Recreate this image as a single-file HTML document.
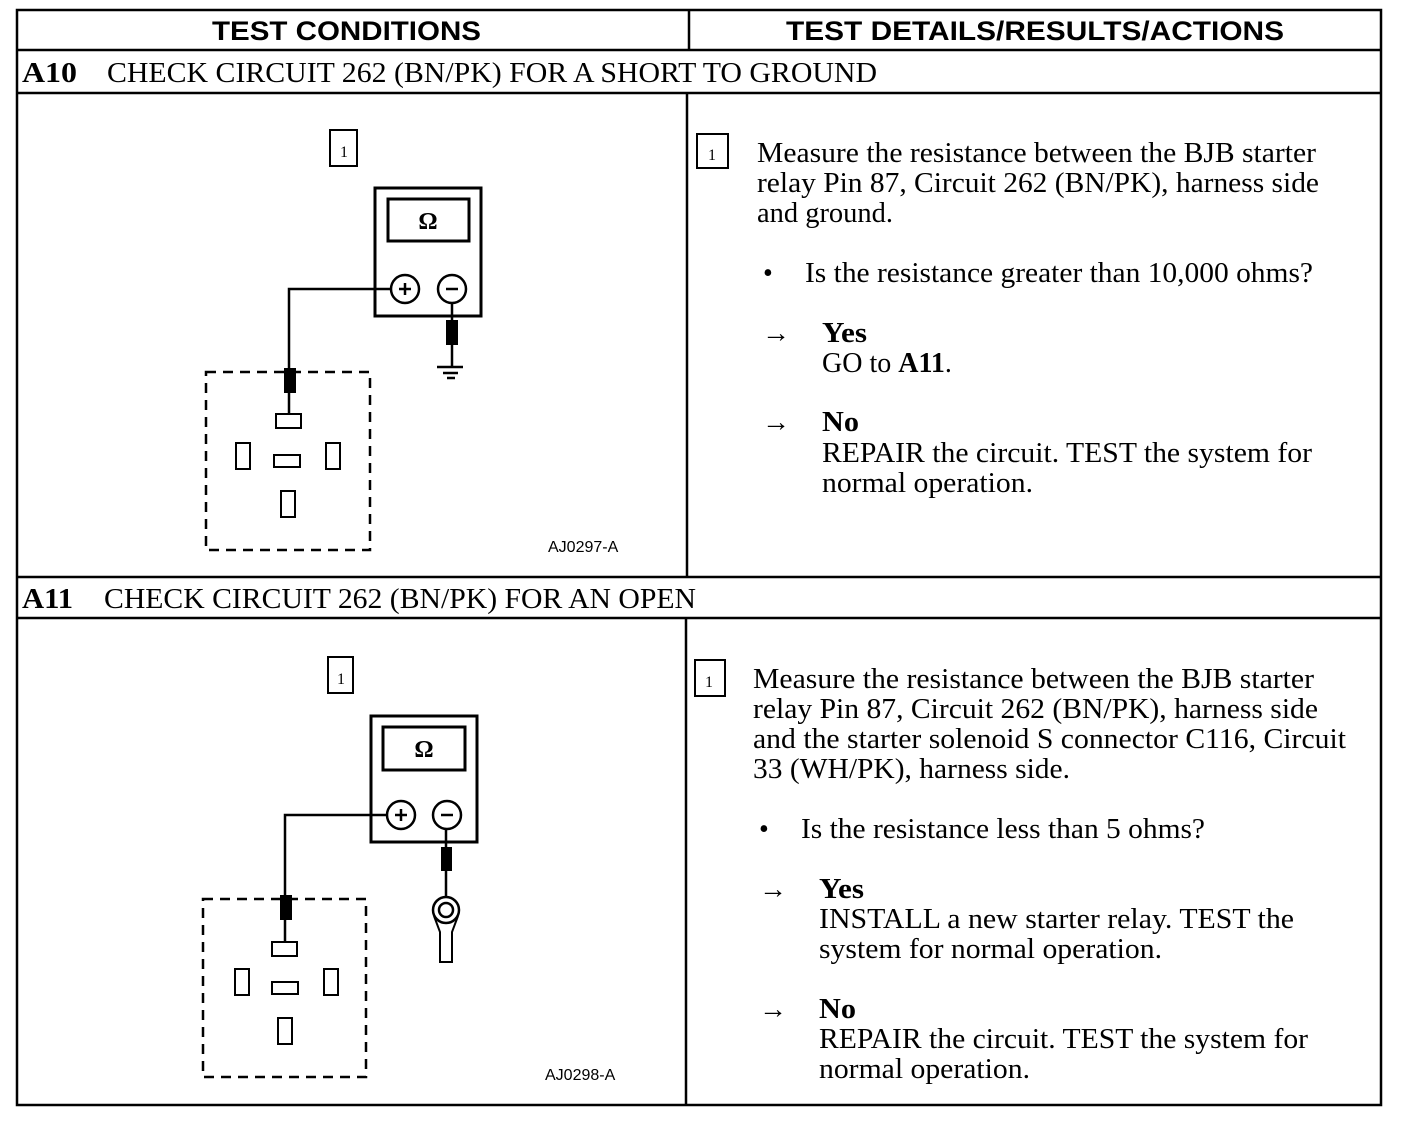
<!DOCTYPE html>
<html><head><style>
html,body{margin:0;padding:0;background:#fff;}
svg{display:block;}
.s{font-family:"Liberation Serif",serif;font-size:28px;fill:#000;}
.b{font-weight:bold;}
.h{font-family:"Liberation Sans",sans-serif;font-weight:bold;font-size:27px;}
.l{font-family:"Liberation Sans",sans-serif;font-size:16px;}
</style></head><body>
<svg width="1408" height="1130" viewBox="0 0 1408 1130" xmlns="http://www.w3.org/2000/svg">
<g fill="none" stroke="#000" stroke-width="2.5">
<rect x="17" y="10" width="1364" height="1095"/>
<line x1="17" y1="50" x2="1381" y2="50"/>
<line x1="17" y1="93" x2="1381" y2="93"/>
<line x1="17" y1="577" x2="1381" y2="577"/>
<line x1="17" y1="618" x2="1381" y2="618"/>
<line x1="689" y1="10" x2="689" y2="50"/>
<line x1="687" y1="93" x2="687" y2="577"/>
<line x1="686" y1="618" x2="686" y2="1105"/>
</g>
<text class="h" x="212" y="40" textLength="269" lengthAdjust="spacingAndGlyphs">TEST CONDITIONS</text>
<text class="h" x="786" y="40" textLength="498" lengthAdjust="spacingAndGlyphs">TEST DETAILS/RESULTS/ACTIONS</text>
<text class="s b" x="22" y="82" textLength="55" lengthAdjust="spacingAndGlyphs">A10</text>
<text class="s" x="107" y="82" textLength="770" lengthAdjust="spacingAndGlyphs">CHECK CIRCUIT 262 (BN/PK) FOR A SHORT TO GROUND</text>
<text class="s b" x="22" y="608" textLength="51" lengthAdjust="spacingAndGlyphs">A11</text>
<text class="s" x="104" y="608" textLength="592" lengthAdjust="spacingAndGlyphs">CHECK CIRCUIT 262 (BN/PK) FOR AN OPEN</text>

<!-- A10 right -->
<rect x="697" y="134" width="31" height="34" fill="none" stroke="#000" stroke-width="2"/>
<text class="s" x="708" y="160" style="font-size:16px">1</text>
<text class="s" x="757" y="162" textLength="559" lengthAdjust="spacingAndGlyphs">Measure the resistance between the BJB starter</text>
<text class="s" x="757" y="192" textLength="562" lengthAdjust="spacingAndGlyphs">relay Pin 87, Circuit 262 (BN/PK), harness side</text>
<text class="s" x="757" y="222" textLength="136" lengthAdjust="spacingAndGlyphs">and ground.</text>
<text class="s" x="763" y="282">•</text>
<text class="s" x="805" y="282" textLength="508" lengthAdjust="spacingAndGlyphs">Is the resistance greater than 10,000 ohms?</text>
<text class="s" x="762" y="342">→</text>
<text class="s b" x="822" y="342" textLength="45" lengthAdjust="spacingAndGlyphs">Yes</text>
<text class="s" x="822" y="372">GO to <tspan class="b">A11</tspan>.</text>
<text class="s" x="762" y="431">→</text>
<text class="s b" x="822" y="431" textLength="37" lengthAdjust="spacingAndGlyphs">No</text>
<text class="s" x="822" y="462" textLength="490" lengthAdjust="spacingAndGlyphs">REPAIR the circuit. TEST the system for</text>
<text class="s" x="822" y="492" textLength="211" lengthAdjust="spacingAndGlyphs">normal operation.</text>

<!-- A11 right -->
<rect x="695" y="660" width="30" height="36" fill="none" stroke="#000" stroke-width="2"/>
<text class="s" x="705" y="687" style="font-size:16px">1</text>
<text class="s" x="753" y="688" textLength="561" lengthAdjust="spacingAndGlyphs">Measure the resistance between the BJB starter</text>
<text class="s" x="753" y="718" textLength="565" lengthAdjust="spacingAndGlyphs">relay Pin 87, Circuit 262 (BN/PK), harness side</text>
<text class="s" x="753" y="748" textLength="593" lengthAdjust="spacingAndGlyphs">and the starter solenoid S connector C116, Circuit</text>
<text class="s" x="753" y="778" textLength="317" lengthAdjust="spacingAndGlyphs">33 (WH/PK), harness side.</text>
<text class="s" x="759" y="838">•</text>
<text class="s" x="801" y="838" textLength="404" lengthAdjust="spacingAndGlyphs">Is the resistance less than 5 ohms?</text>
<text class="s" x="759" y="898">→</text>
<text class="s b" x="819" y="898" textLength="45" lengthAdjust="spacingAndGlyphs">Yes</text>
<text class="s" x="819" y="928" textLength="475" lengthAdjust="spacingAndGlyphs">INSTALL a new starter relay. TEST the</text>
<text class="s" x="819" y="958" textLength="343" lengthAdjust="spacingAndGlyphs">system for normal operation.</text>
<text class="s" x="759" y="1018">→</text>
<text class="s b" x="819" y="1018" textLength="37" lengthAdjust="spacingAndGlyphs">No</text>
<text class="s" x="819" y="1048" textLength="489" lengthAdjust="spacingAndGlyphs">REPAIR the circuit. TEST the system for</text>
<text class="s" x="819" y="1078" textLength="211" lengthAdjust="spacingAndGlyphs">normal operation.</text>

<!-- Diagram 1 -->
<g stroke="#000" fill="none" stroke-width="2.5">
<rect x="330" y="130" width="27" height="36" stroke-width="2"/>
<rect x="375" y="188" width="106" height="128" stroke-width="3"/>
<rect x="388" y="199" width="81" height="42" stroke-width="3"/>
<circle cx="405" cy="289" r="14"/>
<circle cx="452" cy="289" r="14"/>
<line x1="399" y1="289" x2="411" y2="289"/><line x1="405" y1="283" x2="405" y2="295"/>
<line x1="446" y1="289" x2="458" y2="289"/>
<polyline points="391,289 289,289 289,414"/>
<line x1="452" y1="303" x2="452" y2="367"/>
<line x1="437" y1="367" x2="463" y2="367"/>
<line x1="443" y1="373" x2="458" y2="373"/>
<line x1="447" y1="378" x2="455" y2="378"/>
<rect x="206" y="372" width="164" height="178" stroke-dasharray="10,7"/>
<rect x="276" y="414" width="25" height="14" stroke-width="2"/>
<rect x="236" y="443" width="14" height="26" stroke-width="2"/>
<rect x="274" y="455" width="26" height="12" stroke-width="2"/>
<rect x="326" y="443" width="14" height="26" stroke-width="2"/>
<rect x="281" y="491" width="14" height="26" stroke-width="2"/>
</g>
<rect x="284" y="368" width="12" height="25" fill="#000"/>
<rect x="446" y="320" width="12" height="25" fill="#000"/>
<text class="s" x="340" y="157" style="font-size:16px">1</text>
<text class="s b" x="428" y="229" text-anchor="middle" style="font-size:24px">Ω</text>
<text class="l" x="548" y="552">AJ0297-A</text>

<!-- Diagram 2 -->
<g stroke="#000" fill="none" stroke-width="2.5">
<rect x="328" y="657" width="25" height="36" stroke-width="2"/>
<rect x="371" y="716" width="106" height="126" stroke-width="3"/>
<rect x="383" y="727" width="82" height="43" stroke-width="3"/>
<circle cx="401" cy="815" r="14"/>
<circle cx="447" cy="815" r="14"/>
<line x1="395" y1="815" x2="407" y2="815"/><line x1="401" y1="809" x2="401" y2="821"/>
<line x1="441" y1="815" x2="453" y2="815"/>
<polyline points="387,815 285,815 285,942"/>
<line x1="446" y1="829" x2="446" y2="898"/>
<circle cx="446" cy="910" r="13"/>
<circle cx="446" cy="910" r="7"/>
<path d="M434,916 L440,932 L440,962 L452,962 L452,932 L458,916" stroke-width="2"/>
<rect x="203" y="899" width="163" height="178" stroke-dasharray="10,7"/>
<rect x="272" y="942" width="25" height="14" stroke-width="2"/>
<rect x="235" y="969" width="14" height="26" stroke-width="2"/>
<rect x="272" y="982" width="26" height="12" stroke-width="2"/>
<rect x="324" y="969" width="14" height="26" stroke-width="2"/>
<rect x="278" y="1018" width="14" height="26" stroke-width="2"/>
</g>
<rect x="280" y="895" width="12" height="25" fill="#000"/>
<rect x="441" y="847" width="11" height="24" fill="#000"/>
<text class="s" x="337" y="684" style="font-size:16px">1</text>
<text class="s b" x="424" y="757" text-anchor="middle" style="font-size:24px">Ω</text>
<text class="l" x="545" y="1080">AJ0298-A</text>
</svg>
</body></html>
